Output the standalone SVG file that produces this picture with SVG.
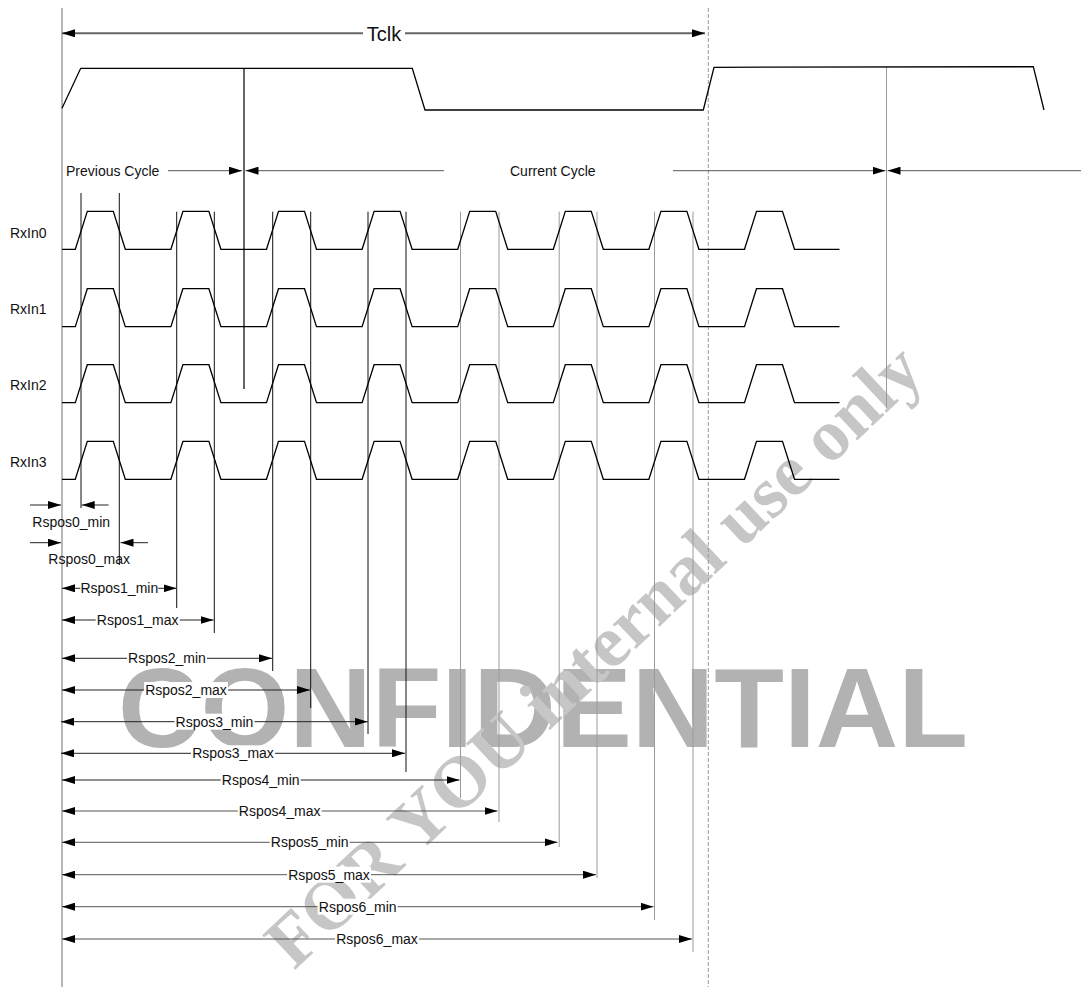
<svg xmlns="http://www.w3.org/2000/svg" xmlns:xlink="http://www.w3.org/1999/xlink" width="1081" height="987" viewBox="0 0 1081 987">
<style>
text{font-family:"Liberation Sans",Arial,sans-serif;font-size:14px;fill:#111}
text.big{font-size:20px}
text.wm{font-family:"Liberation Sans",Arial,sans-serif;font-weight:bold;font-size:113px;fill:#b2b2b2}
text.wm2{font-family:"Liberation Serif","Times New Roman",serif;font-weight:bold;font-size:73px;fill:#c6c6c6}
.sig{fill:none;stroke:#000;stroke-width:1.3;stroke-linejoin:miter}
.vb{stroke:#111;stroke-width:1}
.vg{stroke:#9a9a9a;stroke-width:1}
.dim{stroke:#222;stroke-width:1;fill:none}
.dimg{stroke:#555;stroke-width:1;fill:none}
.bg{fill:#fff}
</style>
<defs>
<marker id="ah" viewBox="0 0 13 8" refX="13" refY="4" markerWidth="13" markerHeight="8" markerUnits="userSpaceOnUse" orient="auto-start-reverse"><path d="M0,0 L13,4 L0,8 z" fill="#000"/></marker>
<path id="wave" d="M62,0 L75.3,0 L87.3,-38 L113.3,-38 L125.3,0 L170.9,0 L182.9,-38 L208.9,-38 L220.9,0 L266.5,0 L278.5,-38 L304.5,-38 L316.5,0 L362.1,0 L374.1,-38 L400.1,-38 L412.1,0 L457.7,0 L469.7,-38 L495.7,-38 L507.7,0 L553.3,0 L565.3,-38 L591.3,-38 L603.3,0 L648.9,0 L660.9,-38 L686.9,-38 L698.9,0 L744.5,0 L756.5,-38 L782.5,-38 L794.5,0 L839.5,0"/>
</defs>
<rect width="1081" height="987" fill="#fff"/>

<g id="watermark">
<text class="wm" x="118" y="747" textLength="850" lengthAdjust="spacingAndGlyphs">CONFIDENTIAL</text>
<text class="wm2" x="294" y="971" transform="rotate(-43.3 294 971)">FOR YOU internal use only</text>
</g>

<g id="guides">
<line x1="62" y1="8" x2="62" y2="987" stroke="#888" stroke-width="1.2"/>
<line x1="708.3" y1="8" x2="708.3" y2="987" stroke="#999" stroke-width="1" stroke-dasharray="4,2"/>
<line x1="886.5" y1="67" x2="886.5" y2="408" class="vg"/>
<line x1="244" y1="68.3" x2="244" y2="389" stroke="#000" stroke-width="1.2"/>
<line x1="81" y1="193" x2="81" y2="508" class="vb"/>
<line x1="119.3" y1="193" x2="119.3" y2="565" class="vb"/>
<line x1="176.7" y1="211.7" x2="176.7" y2="608" class="vb"/>
<line x1="214.3" y1="211.7" x2="214.3" y2="633" class="vb"/>
<line x1="272.7" y1="211.7" x2="272.7" y2="671" class="vb"/>
<line x1="310.7" y1="211.7" x2="310.7" y2="708" class="vb"/>
<line x1="368" y1="211.7" x2="368" y2="734" class="vb"/>
<line x1="406" y1="211.7" x2="406" y2="772" class="vb"/>
<line x1="460.5" y1="211.7" x2="460.5" y2="798" class="vg"/>
<line x1="499" y1="211.7" x2="499" y2="822" class="vg"/>
<line x1="559.2" y1="211.7" x2="559.2" y2="847" class="vg"/>
<line x1="597" y1="211.7" x2="597" y2="878" class="vg"/>
<line x1="654.5" y1="211.7" x2="654.5" y2="920" class="vg"/>
<line x1="693" y1="211.7" x2="693" y2="952" class="vg"/>
</g>

<g id="tclk">
<line x1="62" y1="33.3" x2="705" y2="33.3" stroke="#666" stroke-width="2" marker-start="url(#ah)" marker-end="url(#ah)"/>
<rect class="bg" x="363" y="22" width="42" height="22"/>
<text class="big" x="384" y="40.5" text-anchor="middle">Tclk</text>
</g>

<g id="clock">
<path class="sig" d="M62,108.3 L80.7,68.3 L412.3,68.3 L425,110 L703.3,110 L714,67.3 L1033.3,66.7 L1044,110"/>
</g>

<g id="cycles">
<text x="66" y="175.7">Previous Cycle</text>
<line x1="168" y1="170.7" x2="242" y2="170.7" stroke="#555" marker-end="url(#ah)"/>
<line x1="444" y1="170.7" x2="245.5" y2="170.7" stroke="#555" marker-end="url(#ah)"/>
<text x="510" y="175.7">Current Cycle</text>
<line x1="673" y1="170.7" x2="885.5" y2="170.7" stroke="#555" marker-end="url(#ah)"/>
<line x1="1081" y1="170.7" x2="887.5" y2="170.7" stroke="#555" marker-end="url(#ah)"/>
</g>

<g id="RxIn0"><text x="10" y="237.7">RxIn0</text><use xlink:href="#wave" href="#wave" class="sig" transform="translate(0,249.3)"/></g>
<g id="RxIn1"><text x="10" y="313.5">RxIn1</text><use xlink:href="#wave" href="#wave" class="sig" transform="translate(0,326.7)"/></g>
<g id="RxIn2"><text x="10" y="390">RxIn2</text><use xlink:href="#wave" href="#wave" class="sig" transform="translate(0,402.7)"/></g>
<g id="RxIn3"><text x="10" y="466.7">RxIn3</text><use xlink:href="#wave" href="#wave" class="sig" transform="translate(0,479.3)"/></g>

<g id="connectors">
<g id="Rspos0_min">
<line x1="30" y1="505" x2="61" y2="505" class="dim" marker-end="url(#ah)"/>
<line x1="108.5" y1="505" x2="81.7" y2="505" class="dim" marker-end="url(#ah)"/>
<text x="32.3" y="526.5">Rspos0_min</text>
</g>
<g id="Rspos0_max">
<line x1="30" y1="542.7" x2="61" y2="542.7" class="dim" marker-end="url(#ah)"/>
<line x1="148" y1="542.7" x2="120.5" y2="542.7" class="dim" marker-end="url(#ah)"/>
<text x="48.3" y="564">Rspos0_max</text>
</g>
<g id="Rspos1_min">
<line x1="62" y1="588.3" x2="176.5" y2="588.3" class="dim" marker-start="url(#ah)" marker-end="url(#ah)"/>
<rect class="bg" x="80.3" y="580.3" width="78" height="16"/>
<text x="119.3" y="593.3" text-anchor="middle">Rspos1_min</text>
</g>
<g id="Rspos1_max">
<line x1="62" y1="620" x2="213.5" y2="620" class="dim" marker-start="url(#ah)" marker-end="url(#ah)"/>
<rect class="bg" x="95.7" y="612" width="84" height="16"/>
<text x="137.7" y="625" text-anchor="middle">Rspos1_max</text>
</g>
<g id="Rspos2_min">
<line x1="62" y1="658.3" x2="272" y2="658.3" class="dim" marker-start="url(#ah)" marker-end="url(#ah)"/>
<rect class="bg" x="127" y="650.3" width="80" height="16"/>
<text x="167" y="663.3" text-anchor="middle">Rspos2_min</text>
</g>
<g id="Rspos2_max">
<line x1="62" y1="690" x2="310" y2="690" class="dim" marker-start="url(#ah)" marker-end="url(#ah)"/>
<rect class="bg" x="144" y="682" width="84" height="16"/>
<text x="186" y="695" text-anchor="middle">Rspos2_max</text>
</g>
<g id="Rspos3_min">
<line x1="61" y1="721.7" x2="367.7" y2="721.7" class="dim" marker-start="url(#ah)" marker-end="url(#ah)"/>
<rect class="bg" x="174.5" y="713.7" width="80" height="16"/>
<text x="214.5" y="726.7" text-anchor="middle">Rspos3_min</text>
</g>
<g id="Rspos3_max">
<line x1="61" y1="753.3" x2="405" y2="753.3" class="dim" marker-start="url(#ah)" marker-end="url(#ah)"/>
<rect class="bg" x="191" y="745.3" width="84" height="16"/>
<text x="233" y="758.3" text-anchor="middle">Rspos3_max</text>
</g>
<g id="Rspos4_min">
<line x1="62" y1="780" x2="459.5" y2="780" class="dim" marker-start="url(#ah)" marker-end="url(#ah)"/>
<rect class="bg" x="220.7" y="772" width="80" height="16"/>
<text x="260.7" y="785" text-anchor="middle">Rspos4_min</text>
</g>
<g id="Rspos4_max">
<line x1="62" y1="811" x2="497.5" y2="811" class="dimg" marker-start="url(#ah)" marker-end="url(#ah)"/>
<rect class="bg" x="237.7" y="803" width="84" height="16"/>
<text x="279.7" y="816" text-anchor="middle">Rspos4_max</text>
</g>
<g id="Rspos5_min">
<line x1="62" y1="842.3" x2="557.5" y2="842.3" class="dimg" marker-start="url(#ah)" marker-end="url(#ah)"/>
<rect class="bg" x="269.7" y="834.3" width="80" height="16"/>
<text x="309.7" y="847.3" text-anchor="middle">Rspos5_min</text>
</g>
<g id="Rspos5_max">
<line x1="62" y1="874.7" x2="596" y2="874.7" class="dimg" marker-start="url(#ah)" marker-end="url(#ah)"/>
<rect class="bg" x="287" y="866.7" width="84" height="16"/>
<text x="329" y="879.7" text-anchor="middle">Rspos5_max</text>
</g>
<g id="Rspos6_min">
<line x1="62" y1="906.7" x2="653.5" y2="906.7" class="dimg" marker-start="url(#ah)" marker-end="url(#ah)"/>
<rect class="bg" x="317.7" y="898.7" width="80" height="16"/>
<text x="357.7" y="911.7" text-anchor="middle">Rspos6_min</text>
</g>
<g id="Rspos6_max">
<line x1="62" y1="939" x2="692" y2="939" class="dimg" marker-start="url(#ah)" marker-end="url(#ah)"/>
<rect class="bg" x="335" y="931" width="84" height="16"/>
<text x="377" y="944" text-anchor="middle">Rspos6_max</text>
</g>
</g>
</svg>
